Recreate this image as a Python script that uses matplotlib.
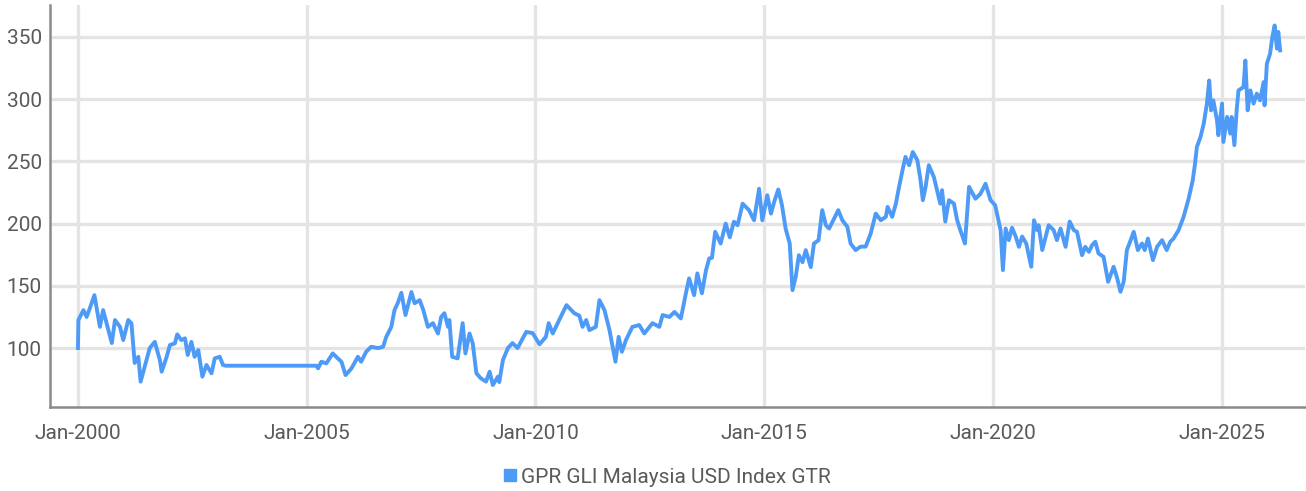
import matplotlib
matplotlib.use("Agg")
import matplotlib.pyplot as plt
import matplotlib.dates as mdates
import pandas as pd

# decimal year -> index level (10 per row)
years = [
    2000.00, 2000.01, 2000.12, 2000.19, 2000.26, 2000.36, 2000.48, 2000.55, 2000.74, 2000.81,
    2000.92, 2000.99, 2001.10, 2001.17, 2001.24, 2001.32, 2001.37, 2001.46, 2001.57, 2001.68,
    2001.79, 2001.83, 2001.94, 2002.01, 2002.12, 2002.17, 2002.26, 2002.34, 2002.40, 2002.48,
    2002.55, 2002.63, 2002.72, 2002.81, 2002.92, 2002.99, 2003.10, 2003.17, 2003.23, 2005.21,
    2005.25, 2005.32, 2005.43, 2005.57, 2005.68, 2005.76, 2005.85, 2005.98, 2006.12, 2006.19,
    2006.30, 2006.41, 2006.56, 2006.67, 2006.74, 2006.85, 2006.92, 2006.99, 2007.07, 2007.16,
    2007.29, 2007.36, 2007.47, 2007.55, 2007.65, 2007.76, 2007.87, 2007.94, 2008.01, 2008.09,
    2008.12, 2008.18, 2008.30, 2008.41, 2008.47, 2008.56, 2008.63, 2008.71, 2008.81, 2008.92,
    2009.00, 2009.07, 2009.18, 2009.21, 2009.29, 2009.40, 2009.50, 2009.61, 2009.80, 2009.94,
    2010.09, 2010.23, 2010.29, 2010.38, 2010.52, 2010.68, 2010.85, 2010.96, 2011.03, 2011.11,
    2011.18, 2011.32, 2011.40, 2011.51, 2011.62, 2011.75, 2011.82, 2011.89, 2011.98, 2012.12,
    2012.27, 2012.38, 2012.56, 2012.71, 2012.78, 2012.93, 2013.04, 2013.18, 2013.29, 2013.36,
    2013.47, 2013.54, 2013.64, 2013.73, 2013.80, 2013.86, 2013.93, 2014.05, 2014.16, 2014.25,
    2014.34, 2014.42, 2014.53, 2014.67, 2014.78, 2014.89, 2014.96, 2015.07, 2015.15, 2015.22,
    2015.31, 2015.39, 2015.47, 2015.56, 2015.62, 2015.69, 2015.76, 2015.84, 2015.91, 2016.02,
    2016.09, 2016.19, 2016.27, 2016.35, 2016.42, 2016.53, 2016.62, 2016.71, 2016.82, 2016.89,
    2017.00, 2017.11, 2017.22, 2017.33, 2017.44, 2017.55, 2017.66, 2017.70, 2017.80, 2017.88,
    2017.95, 2018.04, 2018.09, 2018.17, 2018.25, 2018.35, 2018.42, 2018.47, 2018.53, 2018.60,
    2018.71, 2018.78, 2018.85, 2018.89, 2018.96, 2019.04, 2019.15, 2019.22, 2019.29, 2019.39,
    2019.48, 2019.62, 2019.73, 2019.84, 2019.95, 2020.05, 2020.09, 2020.17, 2020.22, 2020.28,
    2020.35, 2020.42, 2020.50, 2020.57, 2020.64, 2020.73, 2020.84, 2020.90, 2020.97, 2021.00,
    2021.08, 2021.22, 2021.33, 2021.40, 2021.48, 2021.59, 2021.68, 2021.77, 2021.84, 2021.95,
    2022.02, 2022.10, 2022.17, 2022.24, 2022.31, 2022.42, 2022.52, 2022.64, 2022.71, 2022.79,
    2022.86, 2022.93, 2023.00, 2023.08, 2023.17, 2023.26, 2023.32, 2023.39, 2023.50, 2023.59,
    2023.70, 2023.80, 2023.88, 2023.95, 2024.06, 2024.17, 2024.28, 2024.37, 2024.42, 2024.46,
    2024.54, 2024.61, 2024.68, 2024.73, 2024.77, 2024.82, 2024.90, 2024.93, 2025.01, 2025.04,
    2025.12, 2025.19, 2025.22, 2025.28, 2025.33, 2025.37, 2025.48, 2025.52, 2025.57, 2025.63,
    2025.70, 2025.77, 2025.84, 2025.92, 2025.94, 2025.99, 2026.06, 2026.11, 2026.16, 2026.21,
    2026.24, 2026.28,
]
index_gtr = [
    100.0, 122.5, 130.5, 125.0, 132.0, 142.5, 117.0, 130.5, 104.0, 122.5,
    117.0, 106.4, 122.5, 119.8, 88.0, 93.0, 73.0, 85.0, 100.0, 105.0,
    90.4, 81.0, 93.0, 102.4, 103.8, 111.0, 106.4, 107.8, 94.4, 105.0,
    93.0, 98.4, 77.0, 86.4, 79.7, 91.7, 93.0, 86.4, 85.8, 85.8,
    83.7, 89.0, 87.7, 95.7, 91.7, 89.0, 78.3, 83.7, 93.0, 89.0,
    97.0, 101.0, 100.0, 101.0, 109.0, 117.0, 130.5, 136.0, 144.4, 126.5,
    145.0, 136.0, 138.5, 130.5, 117.0, 120.0, 111.7, 125.0, 128.0, 117.0,
    122.5, 93.0, 91.7, 120.0, 95.7, 111.7, 103.8, 79.7, 75.6, 73.0,
    81.0, 70.3, 77.0, 72.6, 90.4, 100.0, 104.0, 100.0, 113.0, 112.0,
    103.0, 109.0, 120.0, 111.7, 122.5, 134.5, 128.0, 126.0, 117.0, 122.5,
    114.4, 117.0, 138.5, 130.5, 114.4, 89.0, 109.0, 97.0, 106.4, 117.0,
    118.5, 111.7, 120.0, 117.0, 126.5, 125.0, 129.0, 123.8, 144.0, 156.0,
    142.5, 160.0, 144.0, 162.6, 172.0, 172.5, 193.4, 184.0, 200.0, 189.0,
    201.5, 198.7, 216.0, 210.8, 202.7, 228.0, 202.7, 222.8, 208.0, 217.5,
    227.4, 214.8, 196.0, 184.0, 146.5, 157.0, 174.6, 169.0, 178.7, 165.0,
    184.0, 186.7, 210.8, 198.7, 196.0, 204.0, 210.8, 202.7, 197.4, 184.0,
    178.7, 181.5, 181.5, 192.0, 208.0, 202.7, 205.4, 213.4, 205.4, 216.0,
    229.5, 245.5, 253.6, 246.9, 257.5, 250.9, 234.8, 218.8, 229.5, 246.9,
    237.5, 226.8, 216.0, 226.8, 201.6, 218.8, 216.0, 202.7, 194.7, 184.0,
    229.5, 220.0, 224.0, 232.0, 218.8, 214.8, 208.0, 194.7, 162.6, 196.0,
    186.7, 196.7, 189.6, 181.3, 189.6, 184.0, 165.3, 202.7, 194.7, 198.7,
    178.7, 198.7, 194.7, 186.7, 196.0, 181.3, 201.6, 194.7, 193.4, 174.6,
    181.3, 177.3, 182.7, 185.4, 176.0, 173.3, 153.2, 165.3, 157.2, 145.2,
    153.2, 178.7, 185.4, 193.4, 178.7, 184.0, 178.7, 188.0, 170.6, 181.3,
    186.7, 178.7, 185.4, 188.0, 194.7, 205.4, 220.0, 234.8, 248.2, 261.6,
    269.6, 280.3, 296.4, 315.0, 291.0, 299.0, 283.0, 271.0, 296.4, 265.6,
    285.7, 272.3, 285.7, 263.0, 291.0, 307.0, 309.7, 331.0, 291.0, 307.0,
    296.4, 304.4, 299.0, 313.7, 295.0, 328.4, 336.4, 350.0, 359.2, 340.6,
    354.0, 339.2,
]
year_ticks = [2000, 2005, 2010, 2015, 2020, 2025]
y_ticks = [100, 150, 200, 250, 300, 350]
series_name = "GPR GLI Malaysia USD Index GTR"


def to_date(y):
    return pd.Timestamp("2000-01-01") + pd.to_timedelta((y - 2000) * 365.25, unit="D")


dates = [to_date(y) for y in years]

plt.rcParams['font.family'] = ['Liberation Sans Narrow', 'Roboto', 'DejaVu Sans']

fig = plt.figure(figsize=(13.06, 4.91), dpi=100)
ax = fig.add_axes([0.0383, 0.171, 0.9607, 0.819])

ax.plot(dates, index_gtr, color="#4d9bf7", lw=2.8, label=series_name)

ax.set_xlim(to_date(2000) - pd.Timedelta(days=223), to_date(2000) + pd.Timedelta(days=9795))
ax.set_ylim(52.6, 375.7)
ax.set_xticks([pd.Timestamp(f"{y}-01-01") for y in year_ticks])
ax.xaxis.set_major_formatter(mdates.DateFormatter("%b-%Y"))
ax.set_yticks(y_ticks)

ax.grid(True, color="#e4e4e4", lw=2.4)
ax.set_axisbelow(True)
for s in ["top", "right"]:
    ax.spines[s].set_visible(False)
for s in ["left", "bottom"]:
    ax.spines[s].set_color("#8a8a8a")
    ax.spines[s].set_linewidth(1.8)
ax.tick_params(length=0, labelsize=15, labelcolor="#5a5a5a", pad=12)
ax.tick_params(axis="y", pad=6)

handle = plt.Line2D([], [], marker="s", color="#4d9bf7", ls="", markersize=8)
fig.legend([handle], [series_name], loc="center", bbox_to_anchor=(0.51, 0.028),
           frameon=False, fontsize=15, labelcolor="#5a5a5a", handletextpad=0.1,
           handlelength=0.8)

fig.savefig("out.png", dpi=100)
